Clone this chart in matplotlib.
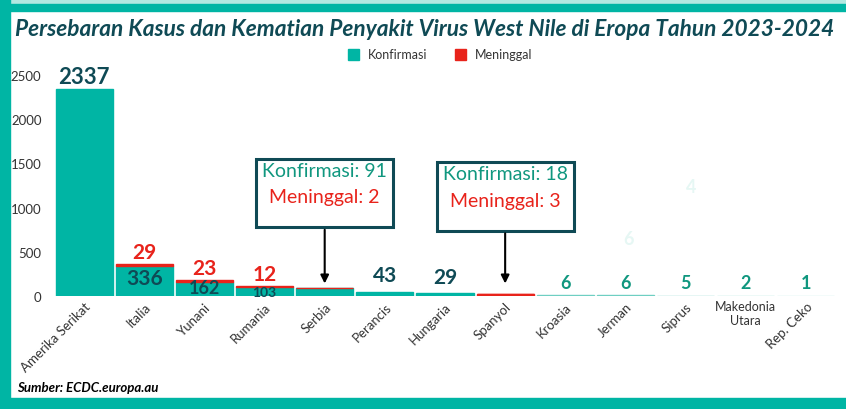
import matplotlib.pyplot as plt
from matplotlib.patches import Rectangle

negara = ['Amerika Serikat', 'Italia', 'Yunani', 'Rumania', 'Serbia', 'Perancis',
          'Hungaria', 'Spanyol', 'Kroasia', 'Jerman', 'Siprus', 'Makedonia\nUtara', 'Rep. Ceko']
konfirmasi = [2337, 336, 162, 103, 91, 43, 29, 18, 6, 6, 5, 2, 1]
meninggal = [0, 29, 23, 12, 2, 0, 0, 3, 0, 0, 0, 0, 0]

teal = '#00b5a4'
red = '#e8231b'
dark = '#0f4a55'
green_txt = '#10977f'

plt.rcParams['font.family'] = ['Lato', 'DejaVu Sans']

fig = plt.figure(figsize=(8.46, 4.10), dpi=100)
W, H = 846, 410

# frame around the figure
def frect(x, y, w, h, c):
    fig.patches.append(Rectangle((x / W, 1 - (y + h) / H), w / W, h / H,
                                 transform=fig.transFigure, color=c, zorder=0))
frect(0, 0, W, 5, '#b3e8e1')
frect(0, 5, W, 7, teal)
frect(0, 0, 10, H, teal)
frect(0, 399, W, 11, teal)

ax = fig.add_axes([54 / W, 113 / H, 782 / W, 230 / H])
x = range(len(negara))

# tiny bars fade out to the right
warna = [teal] * 8 + ['#6fcfc2', '#6fcfc2', '#80d4c9', '#a8e3da', '#c5ece6']
warna[7] = red
ax.bar(x, konfirmasi, width=0.95, color=warna, edgecolor=warna, linewidth=1)
tepi = [red if m > 0 else 'none' for m in meninggal]
ax.bar(x, meninggal, bottom=konfirmasi, width=0.95, color=red, edgecolor=tepi,
       linewidth=1)

ax.set_xlim(-0.5, len(negara) - 0.5)
ax.set_ylim(0, 2600)
ax.set_yticks([0, 500, 1000, 1500, 2000, 2500])
ax.tick_params(axis='y', length=0, labelsize=9.5, labelcolor='#333333', pad=9)
ax.tick_params(axis='x', length=0, labelsize=9.5, labelcolor='#333333', pad=3)
ax.set_xticks(list(x))
ax.set_xticklabels(negara)
for i, t in enumerate(ax.get_xticklabels()):
    if i == 11:
        t.set_rotation(0)
        t.set_ha('center')
        t.set_va('top')
        t.set_fontsize(9)
    else:
        t.set_rotation(45)
        t.set_ha('right')
        t.set_rotation_mode('anchor')
for s in ax.spines.values():
    s.set_visible(False)

# value labels
ax.text(0, 2360, '2337', ha='center', va='bottom', fontsize=16, fontweight='bold', color=dark)
ax.text(1, 200, '336', ha='center', va='center', fontsize=15, fontweight='bold', color=dark)
ax.text(2, 95, '162', ha='center', va='center', fontsize=13, fontweight='bold', color=dark)
ax.text(3, 50, '103', ha='center', va='center', fontsize=10, fontweight='bold', color=dark)
ax.text(1, 380, '29', ha='center', va='bottom', fontsize=15, fontweight='bold', color=red)
ax.text(2, 200, '23', ha='center', va='bottom', fontsize=15, fontweight='bold', color=red)
ax.text(3, 130, '12', ha='center', va='bottom', fontsize=15, fontweight='bold', color=red)
ax.text(5, 120, '43', ha='center', va='bottom', fontsize=15, fontweight='bold', color=dark)
ax.text(6, 100, '29', ha='center', va='bottom', fontsize=15, fontweight='bold', color=dark)
for i in range(8, 13):
    ax.text(i, 60, str(konfirmasi[i]), ha='center', va='bottom', fontsize=13,
            fontweight='bold', color=green_txt)
# faint leftover labels
ax.text(10.1, 1240, '4', ha='center', va='center', fontsize=13, fontweight='bold', color='#e6f7f4')
ax.text(9.05, 650, '6', ha='center', va='center', fontsize=13, fontweight='bold', color='#e6f7f4')

# callout boxes
for i, (k, m) in [(4, (91, 2)), (7, (18, 3))]:
    ax.annotate('', xy=(i, 110), xytext=(i, 780 if i == 4 else 740),
                arrowprops=dict(arrowstyle='-|>', color='black', lw=1.5, mutation_scale=12))
    yb = 1210 if i == 4 else 1170
    ax.text(i, yb + 210, 'Konfirmasi: %d' % k, ha='center', va='center', fontsize=14, color=green_txt)
    ax.text(i, yb - 90, 'Meninggal: %d' % m, ha='center', va='center', fontsize=14, color=red)
    ax.add_patch(Rectangle((i - 1.14, yb - 430), 2.28, 770, facecolor='white',
                           edgecolor=dark, lw=2.2, zorder=1.5))

fig.text(425 / W, 1 - 30 / H, 'Persebaran Kasus dan Kematian Penyakit Virus West Nile di Eropa Tahun 2023-2024',
         ha='center', va='center', fontsize=16.3, fontstyle='italic', fontweight='bold', color=dark)
fig.patches.append(Rectangle((348 / W, 1 - 61 / H), 11 / W, 11 / H, transform=fig.transFigure, color=teal))
fig.text(368 / W, 1 - 55 / H, 'Konfirmasi', va='center', fontsize=9, color='#333333')
fig.patches.append(Rectangle((455 / W, 1 - 61 / H), 11 / W, 11 / H, transform=fig.transFigure, color=red))
fig.text(475 / W, 1 - 55 / H, 'Meninggal', va='center', fontsize=9, color='#333333')
fig.text(17 / W, 1 - 388 / H, 'Sumber: ECDC.europa.au', va='center', fontsize=9.5,
         fontstyle='italic', fontweight='bold', color='black')

plt.savefig('out.png', dpi=100)
